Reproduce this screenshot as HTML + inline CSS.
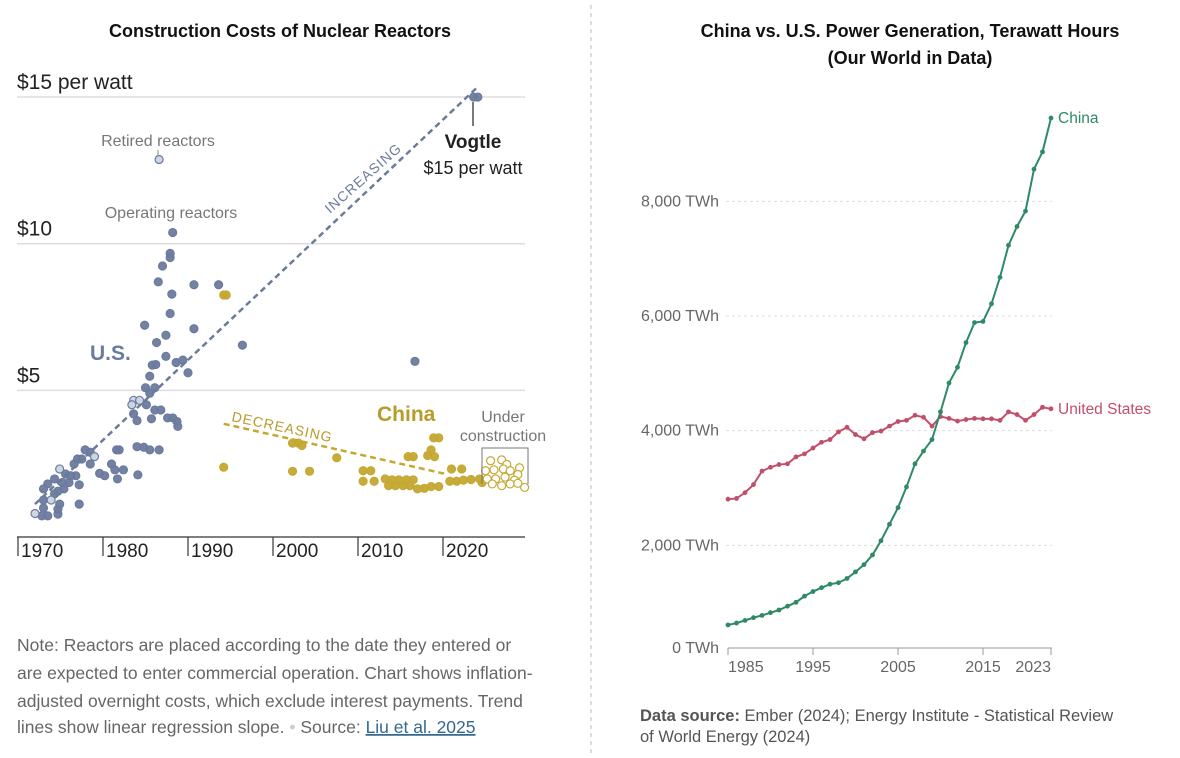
<!DOCTYPE html>
<html><head><meta charset="utf-8"><style>
body{margin:0;background:#fff;width:1180px;height:758px;overflow:hidden;font-family:"Liberation Sans",sans-serif;}
svg{position:absolute;left:0;top:0}
</style></head><body>
<svg width="1180" height="758">
<g id="left">
<text x="280" y="37" text-anchor="middle" font-size="18" font-weight="bold" font-family="'Liberation Sans Narrow','Liberation Sans',sans-serif" fill="#111">Construction Costs of Nuclear Reactors</text>
<g id="lgrid"></g>
<g id="lpts"></g>
<g id="lann"></g>
</g>
<line x1="591" y1="5" x2="591" y2="755" stroke="#bbb" stroke-dasharray="4,4"/>
<g id="right">
<text x="910" y="37" text-anchor="middle" font-size="18" font-weight="bold" font-family="'Liberation Sans Narrow','Liberation Sans',sans-serif" fill="#111">China vs. U.S. Power Generation, Terawatt Hours</text>
<text x="910" y="64" text-anchor="middle" font-size="18" font-weight="bold" font-family="'Liberation Sans Narrow','Liberation Sans',sans-serif" fill="#111">(Our World in Data)</text>
<g id="rgrid"></g>
<g id="rlines"></g>
</g>
<text x="17" y="651" font-size="17.5" fill="#666">Note: Reactors are placed according to the date they entered or</text>
<text x="17" y="679" font-size="17.5" fill="#666">are expected to enter commercial operation. Chart shows inflation-</text>
<text x="17" y="707" font-size="17.5" fill="#666">adjusted overnight costs, which exclude interest payments. Trend</text>
<text x="17" y="733" font-size="17.5" fill="#666">lines show linear regression slope. <tspan fill="#ccc">•</tspan> Source: <tspan fill="#326891" text-decoration="underline">Liu et al. 2025</tspan></text>
<text x="640" y="721" font-size="16.5" fill="#555"><tspan font-weight="bold">Data source:</tspan> Ember (2024); Energy Institute - Statistical Review</text>
<text x="640" y="742" font-size="16.5" fill="#555">of World Energy (2024)</text>
</svg>
<script>
const NS="http://www.w3.org/2000/svg";
function mk(p,t,a){const e=document.createElementNS(NS,t);for(const k in a)e.setAttribute(k,a[k]);p.appendChild(e);return e;}
// ---- Left chart data ----
const lYTicks=[5,10,15];
const lYTickLabels=["$5","$10","$15 per watt"];
const lXTicks=[1970,1980,1990,2000,2010,2020];
const usYears=[2023.6,2024.1,1988.2,1987.9,1987.9,1987,1986.5,1990.7,1993.6,1988.1,1987.9,1984.9,1990.7,1987.4,1986.3,1996.4,1987.4,1988.6,1989.4,1985.8,1986.2,1990,2016.7,1985.5,1985,1986.1,1985.5,1985.1,1986.1,1986.8,1983.6,1984,1985.7,1987.6,1988.2,1988.7,1988.8,1984,1984.8,1985.5,1986.6,1981.6,1981.9,1977.9,1978.5,1977,1977.5,1976.6,1978.5,1981,1979.6,1980.2,1981.4,1982.4,1981.7,1984.1,1975.6,1976.2,1976.8,1974.3,1975.2,1976,1977.2,1973.5,1973,1974.7,1975.4,1974.3,1973,1974.9,1973,1974.7,1977.2,1972.8,1973.5,1974.7];
const usCosts=[15,15,10.38,9.67,9.53,9.24,8.7,8.6,8.6,8.28,7.62,7.22,7.1,6.88,6.63,6.54,6.16,5.95,6.03,5.86,5.88,5.6,5.99,5.48,5.09,5.09,4.9,4.51,4.33,4.33,4.2,3.97,4.03,4.06,4.06,3.94,3.77,3.08,3.06,2.97,2.97,2.97,2.97,2.97,2.89,2.66,2.66,2.49,2.49,2.49,2.17,2.09,2.29,2.29,1.98,2.12,2.15,2.09,2.09,1.98,1.86,1.86,1.78,1.81,1.64,1.56,1.64,1.47,1.26,1.12,0.99,0.95,1.12,0.72,0.72,0.78];
const usRetYears=[1986.6,1983.6,1984.3,1983.4,1979,1974.9,1973.9,1972];
const usRetCosts=[12.87,4.66,4.66,4.51,2.74,2.32,1.26,0.8];
const cnYears=[1994.2,1994.5,1994.2,2002.3,2003,2003.4,2002.3,2004.3,2007.5,2010.6,2011.5,2010.6,2011.9,2013.2,2014,2014.8,2015.7,2016.5,2013.6,2014.4,2015.3,2016.1,2017,2017.8,2018.6,2019.5,2015.9,2016.5,2018.2,2018.6,2019,2018.9,2019.5,2021,2022.2,2020.8,2021.6,2022.4,2023.3,2024.3,2024.6];
const cnCosts=[8.25,8.25,2.38,3.2,3.2,3.12,2.24,2.24,2.7,2.26,2.26,1.9,1.9,1.98,1.95,1.95,1.95,1.95,1.75,1.75,1.75,1.75,1.64,1.66,1.72,1.72,2.74,2.74,2.78,2.97,2.74,3.38,3.38,2.32,2.32,1.9,1.9,1.94,1.96,1.98,1.86];
const ucYears=[2025.6,2026.9,2027.5,2029,2025,2026,2027.1,2027.9,2028.8,2025.2,2026.2,2027.3,2028.4,2025.8,2026.9,2027.9,2028.8,2029.6];
const ucCosts=[2.6,2.63,2.47,2.36,2.26,2.29,2.32,2.26,2.13,1.98,1.98,2.04,1.94,1.81,1.75,1.81,1.83,1.69];
const usTrend=[[1972,1.12],[2024.1,15.35]];
const cnTrend=[[1994.2,3.86],[2020.3,2.15]];
const lx=y=>18+(y-1970)*8.5, ly=v=>537-v*29.33;
const lg=document.getElementById('lgrid');
lYTicks.forEach((t,i)=>{
 let g=mk(lg,'line',{x1:17,x2:525,y1:ly(t),y2:ly(t),stroke:'#ddd','stroke-width':1.5});
 
 
 let tx=mk(lg,'text',{x:17,y:ly(t)-8,'font-size':21,fill:'#222'});tx.textContent=lYTickLabels[i];
 
 
});
let ax=mk(lg,'line',{x1:17,x2:525,y1:537,y2:537,stroke:'#555','stroke-width':1.5});


lXTicks.forEach(t=>{
 let tk=mk(lg,'line',{x1:lx(t),x2:lx(t),y1:537,y2:556,stroke:'#444','stroke-width':1.3});
 
 
 let tx=mk(lg,'text',{x:lx(t)+3,y:557,'font-size':19,fill:'#222'});tx.textContent=t;
 
 
});
const lp=document.getElementById('lpts');
function trend(d,c,name){let l=mk(lp,'line',{x1:lx(d[0][0]),y1:ly(d[0][1]),x2:lx(d[1][0]),y2:ly(d[1][1]),stroke:c,'stroke-width':2.5,'stroke-dasharray':'6,4'});
 
 }
trend(usTrend,'#6b7b9a','us-trend-line');
trend(cnTrend,'#c4a832','china-trend-line');
function dots(xs,ys,fill,stroke,name){xs.forEach((x,i)=>{let c=mk(lp,'circle',{cx:lx(x),cy:ly(ys[i]),r:4,fill:fill,stroke:stroke,'stroke-width':1.2,'fill-opacity':0.95});
 
 });}
dots(usYears,usCosts,'#6b7b9e','#6b7b9e','us-reactor-dot');
dots(usRetYears,usRetCosts,'#cbd3e2','#6b7b9e','us-retired-reactor-dot');
dots(cnYears,cnCosts,'#c4a832','#c4a832','china-reactor-dot');
dots(ucYears,ucCosts,'#fff','#c4a832','china-under-construction-dot');
const la=document.getElementById('lann');
la.innerHTML=`
<text x="158" y="146" text-anchor="middle" font-size="16" fill="#777">Retired reactors</text>
<line x1="158" y1="150" x2="158" y2="156" stroke="#888"/>
<text x="171" y="218" text-anchor="middle" font-size="16" fill="#777">Operating reactors</text>
<text x="90" y="360" font-size="21" font-weight="bold" fill="#6b7b9e">U.S.</text>
<text x="0" y="0" font-size="14" fill="#6b7b9e" letter-spacing="1" transform="translate(330,214) rotate(-41.6)">INCREASING</text>
<line x1="473" y1="102" x2="473" y2="126" stroke="#333" stroke-width="1.3"/>
<text x="473" y="148" text-anchor="middle" font-size="19" font-weight="bold" fill="#222">Vogtle</text>
<text x="473" y="174" text-anchor="middle" font-size="18" fill="#222">$15 per watt</text>
<text x="0" y="0" font-size="14" fill="#b89c2a" letter-spacing="1" transform="translate(231,421) rotate(12)">DECREASING</text>
<text x="377" y="421" font-size="21" font-weight="bold" fill="#b89c2a">China</text>
<text x="503" y="422" text-anchor="middle" font-size="16" fill="#777">Under</text>
<text x="503" y="441" text-anchor="middle" font-size="16" fill="#777">construction</text>
<polyline points="482,484 482,448 528,448 528,484" fill="none" stroke="#777" stroke-width="1"/>`;
// ---- Right chart data ----
const years=[];for(let y=1985;y<=2023;y++)years.push(y);
const chinaTWh=[611,644,691,738,778,825,872,939,1006,1114,1194,1261,1322,1348,1422,1537,1664,1832,2080,2368,2657,3019,3422,3644,3845,4328,4831,5106,5536,5885,5905,6213,6676,7233,7562,7830,8561,8863,9453];
const usTWh=[2805,2818,2919,3060,3295,3362,3409,3422,3543,3596,3697,3798,3845,3979,4059,3932,3858,3966,3993,4080,4160,4180,4268,4234,4080,4247,4214,4167,4194,4214,4207,4207,4180,4328,4281,4180,4281,4408,4381];
const rYTicks=[0,2000,4000,6000,8000];
const rYLabels=["0 TWh","2,000 TWh","4,000 TWh","6,000 TWh","8,000 TWh"];
const rXTicks=[1985,1995,2005,2015,2023];
const rx=y=>728+(y-1985)*8.5, ry=v=>660-v*0.05733;
const rg=document.getElementById('rgrid');
rYTicks.forEach((t,i)=>{
 const yy=t===0?648:ry(t);
 if(t>0){let g=mk(rg,'line',{x1:726,x2:1052,y1:yy,y2:yy,stroke:'#ddd','stroke-dasharray':'3,3'});
 
 }
 let tx=mk(rg,'text',{x:719,y:yy+5,'text-anchor':'end','font-size':16,fill:'#666'});tx.textContent=rYLabels[i];
 
 
});
let rax=mk(rg,'line',{x1:728,x2:1052,y1:648,y2:648,stroke:'#999'});


rXTicks.forEach((t,i)=>{
 let tk=mk(rg,'line',{x1:rx(t),x2:rx(t),y1:648,y2:655,stroke:'#999'});
 
 
 const anc=i===0?'start':(i===rXTicks.length-1?'end':'middle');
 let tx=mk(rg,'text',{x:rx(t),y:672,'text-anchor':anc,'font-size':16,fill:'#666'});tx.textContent=t;
 
 
});
const rl=document.getElementById('rlines');
function series(vals,c,name,label){
 let p=mk(rl,'polyline',{points:vals.map((v,i)=>rx(years[i])+','+ry(v)).join(' '),fill:'none',stroke:c,'stroke-width':2});
 
 
 vals.forEach((v,i)=>{let c2=mk(rl,'circle',{cx:rx(years[i]),cy:ry(v),r:2.4,fill:c});
 
 });
 let t=mk(rl,'text',{x:rx(years[years.length-1])+7,y:ry(vals[vals.length-1])+5,'font-size':15.5,fill:c});t.textContent=label;
 
 
}
series(usTWh,'#c0506a','us-series','United States');
series(chinaTWh,'#2e8a65','china-series','China');
</script>
</body></html>
